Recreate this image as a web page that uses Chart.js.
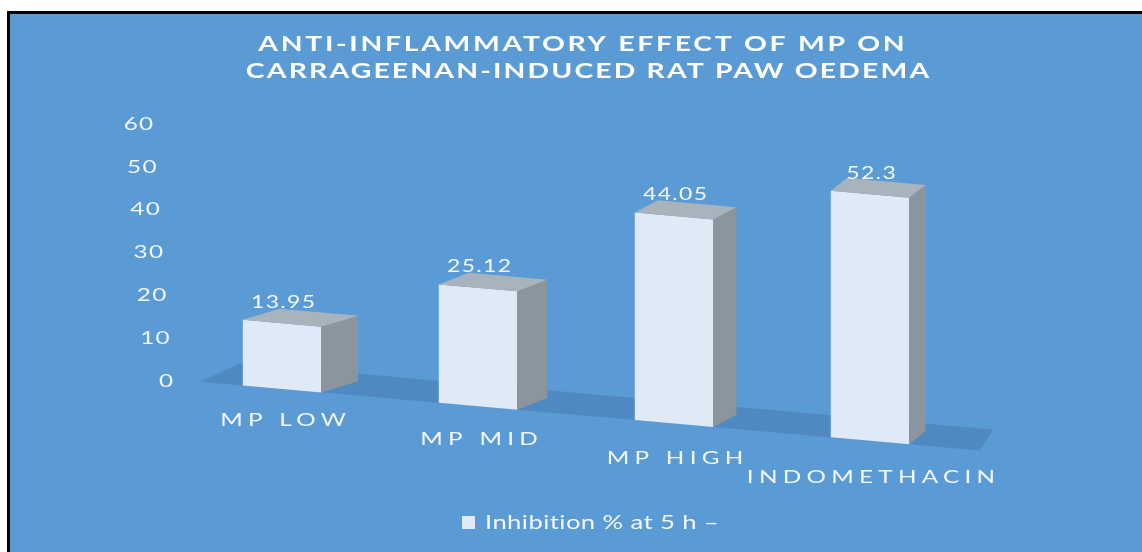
<!DOCTYPE html>
<html>
<head>
<meta charset="utf-8">
<script src="https://cdn.jsdelivr.net/npm/chart.js@4.4.1/dist/chart.umd.min.js"></script>
<style>
  html, body { margin: 0; padding: 0; background: #fff; overflow: hidden; }
  #frame { position: absolute; left: 7px; top: 11px; width: 1150px; height: 560px; border-left: 3px solid #000; border-top: 3px solid #000; background: #5b9bd5; }
  #chart { position: absolute; left: 0; top: 0; }
</style>
</head>
<body>
<div id="frame"></div>
<canvas id="chart" width="1142" height="552"></canvas>
<script>
const categories = ["MP LOW", "MP MID", "MP HIGH", "INDOMETHACIN"];
const inhibition = [13.95, 25.12, 44.05, 52.3];
const seriesLabel = "Inhibition % at 5 h \u2013";
const titleLines = ["ANTI-INFLAMMATORY EFFECT OF MP ON", "CARRAGEENAN-INDUCED RAT PAW OEDEMA"];
const yTicks = [0, 10, 20, 30, 40, 50, 60];

const TEXT = "#f3f7fc";
const FRONT = "#dfeaf6", TOP = "#a9b3bb", SIDE = "#8b959d", FLOOR = "#4f89c2";

// fake 3d: plot gets skewed down to the right and stretched a little
const skew = 0.088, stretch = 1.1, drop = 8;
// the original's text is wide, stretch it sideways
const HS = 1.35;

function persp(chart) {
  const yb = chart.scales.y.getPixelForValue(0);
  const x0 = chart.scales.x.getPixelForValue(0);
  return {
    yb, x0,
    m: [1, skew, 0, stretch, 0, yb - stretch * yb - skew * x0 + drop],
    pt(x, y) { return [x, yb + stretch * (y - yb) + skew * (x - x0) + drop]; }
  };
}
// side face gets thinner further right
function depth(xr) { return [37 - 0.035 * (xr - 318), -13]; }

function wideText(ctx, s, x, y, align, spacing) {
  ctx.letterSpacing = spacing + "px";
  const w = (ctx.measureText(s).width - spacing) * HS;
  const left = align === "center" ? x - w / 2 : align === "right" ? x - w : x;
  ctx.save();
  ctx.translate(left, y);
  ctx.scale(HS, 1);
  ctx.textAlign = "left";
  ctx.fillText(s, 0, 0);
  ctx.restore();
}

const bars3d = {
  id: "bars3d",
  beforeDatasetsDraw(chart) {
    const ctx = chart.ctx, a = chart.chartArea, p = persp(chart);
    ctx.save();
    ctx.transform(...p.m);
    const l = a.left + 16, r = a.right + 12;
    ctx.fillStyle = FLOOR;
    ctx.beginPath();
    ctx.moveTo(l, p.yb);
    ctx.lineTo(r, p.yb);
    ctx.lineTo(r + 13, p.yb - 20);
    ctx.lineTo(l + 40, p.yb - 20);
    ctx.closePath();
    ctx.fill();
  },
  afterDatasetsDraw(chart) {
    const ctx = chart.ctx, p = persp(chart);
    const bars = chart.getDatasetMeta(0).data;
    bars.forEach(bar => {
      const { x, y, base, width } = bar.getProps(["x", "y", "base", "width"], true);
      const xl = x - width / 2, xr = x + width / 2;
      const [dx, dy] = depth(xr);
      ctx.fillStyle = SIDE;
      ctx.beginPath();
      ctx.moveTo(xr, y); ctx.lineTo(xr + dx, y + dy); ctx.lineTo(xr + dx, base + dy); ctx.lineTo(xr, base);
      ctx.closePath(); ctx.fill();
      ctx.fillStyle = TOP;
      ctx.beginPath();
      ctx.moveTo(xl, y); ctx.lineTo(xr, y); ctx.lineTo(xr + dx, y + dy); ctx.lineTo(xl + dx, y + dy);
      ctx.closePath(); ctx.fill();
    });
    ctx.restore();

    ctx.save();
    ctx.fillStyle = TEXT;
    ctx.textBaseline = "middle";
    // value labels
    ctx.font = "17px Lato";
    const vals = chart.data.datasets[0].data;
    bars.forEach((bar, i) => {
      const [lx, ly] = p.pt(bar.x, bar.y);
      wideText(ctx, String(vals[i]), lx + 1, ly - 21, "center", 1);
    });
    // category labels, a bit steeper than the floor
    ctx.font = "18px Lato";
    chart.data.labels.forEach((lab, i) => {
      const [lx, ly] = p.pt(chart.scales.x.getPixelForValue(i), p.yb + 28);
      wideText(ctx, lab, lx + 1, ly + (lx - p.x0) * 0.01, "center", 3.9);
    });
    // y ticks, nudged right as they go down
    yTicks.forEach(v => {
      wideText(ctx, String(v), 173 - v * 0.33, chart.scales.y.getPixelForValue(v), "right", 1);
    });
    // legend
    ctx.fillStyle = FRONT;
    ctx.fillRect(462, 516, 13, 13);
    ctx.fillStyle = TEXT;
    ctx.font = "19px Lato";
    wideText(ctx, chart.data.datasets[0].label, 485, 523, "left", 0.3);
    // title
    ctx.fillStyle = "#ffffff";
    ctx.font = "bold 21px Lato";
    wideText(ctx, titleLines[0], 581.5, 44, "center", 2);
    wideText(ctx, titleLines[1], 587.5, 71, "center", 1.6);
    ctx.restore();
  }
};

new Chart(document.getElementById("chart"), {
  type: "bar",
  data: {
    labels: categories,
    datasets: [{
      label: seriesLabel,
      data: inhibition,
      backgroundColor: FRONT,
      borderWidth: 0,
      barPercentage: 0.8,
      categoryPercentage: 0.5,
      clip: false
    }]
  },
  options: {
    responsive: false,
    animation: false,
    layout: { padding: { left: 184, right: 174, top: 124, bottom: 171 } },
    plugins: {
      title: { display: false },
      tooltip: { enabled: false },
      legend: { display: false }
    },
    scales: {
      x: { display: false },
      y: { display: false, min: 0, max: 60, ticks: { stepSize: 10 } }
    }
  },
  plugins: [bars3d]
});
</script>
</body>
</html>
